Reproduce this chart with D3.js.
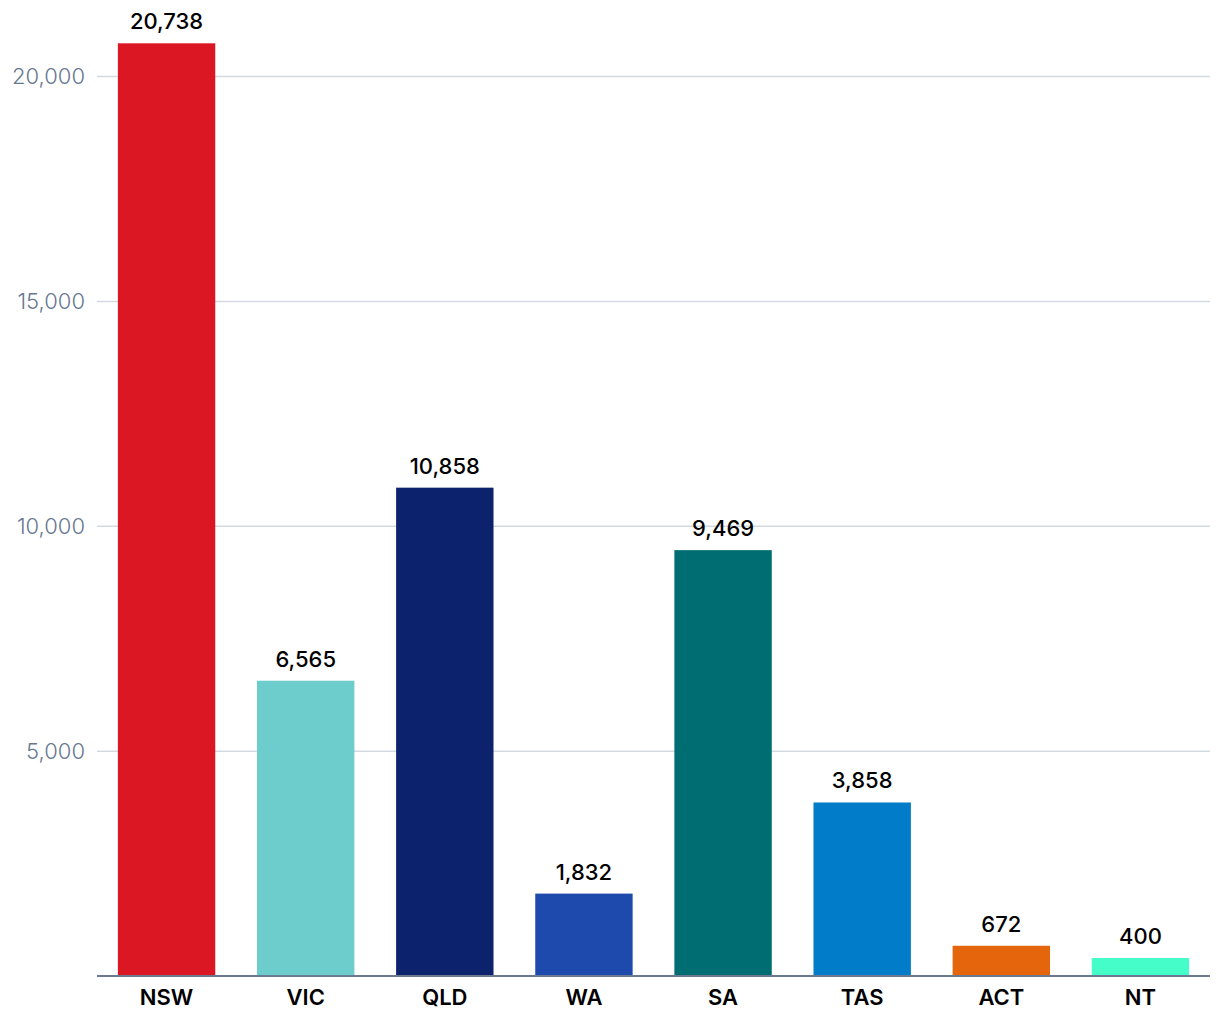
<!DOCTYPE html>
<html><head><meta charset="utf-8">
<script src="https://cdn.jsdelivr.net/npm/d3@7"></script>
<style>body{margin:0;background:#fff;} svg{display:block;}</style>
</head><body>
<svg id="c" width="1220" height="1020"></svg>
<script>
const categories = ["NSW","VIC","QLD","WA","SA","TAS","ACT","NT"];
const values = [20738,6565,10858,1832,9469,3858,672,400];
const colors = ["#db1723","#6ccdcc","#0c226c","#1f4aad","#006d73","#007cc8","#e5650d","#44fdc8"];
const yTicks = [5000,10000,15000,20000];

const svg = d3.select("#c");
const m = {left:97, right:10, top:0, bottom:45};
const W = 1220, H = 1020;
const x = d3.scaleBand().domain(categories).range([m.left, W-m.right]).paddingInner(0.3).paddingOuter(0.15);
const y = d3.scaleLinear().domain([0,20000]).range([976, 76.5]);

const grid = svg.append("g");
grid.selectAll("line").data(yTicks).join("line")
  .attr("x1", m.left).attr("x2", W-m.right)
  .attr("y1", d=>y(d)).attr("y2", d=>y(d))
  .attr("stroke","#d3d9e3").attr("stroke-width",1.5);
grid.selectAll("text").data(yTicks).join("text")
  .attr("x", 85).attr("y", d=>y(d)).attr("dy","0.35em")
  .attr("text-anchor","end")
  .attr("font-family","Inter, 'Noto Sans', sans-serif").attr("font-weight",300)
  .attr("font-size",22).attr("fill","#677890")
  .text(d=>d3.format(",")(d));

svg.append("g").selectAll("rect").data(categories).join("rect")
  .attr("x", d=>x(d)).attr("width", x.bandwidth())
  .attr("y", (d,i)=>y(values[i])).attr("height", (d,i)=>y(0)-y(values[i]))
  .attr("fill", (d,i)=>colors[i]);

svg.append("g").selectAll("text").data(categories).join("text")
  .attr("x", d=>x(d)+x.bandwidth()/2).attr("y", (d,i)=>y(values[i])-14)
  .attr("text-anchor","middle")
  .attr("font-family","Inter, 'Noto Sans', sans-serif").attr("font-weight",500)
  .attr("font-size",22).attr("fill","#000")
  .text((d,i)=>d3.format(",")(values[i]));

const xa = svg.append("g").attr("transform",`translate(0,${y(0)})`)
  .call(d3.axisBottom(x).tickSize(0).tickPadding(13));
xa.select(".domain").attr("stroke","#6b7a90").attr("stroke-width",2)
  .attr("d", `M${m.left},0H${W-m.right}`);
xa.selectAll("text").attr("font-family","Inter, 'Noto Sans', sans-serif")
  .attr("font-weight",600).attr("font-size",22).attr("fill","#000");
</script>
</body></html>
